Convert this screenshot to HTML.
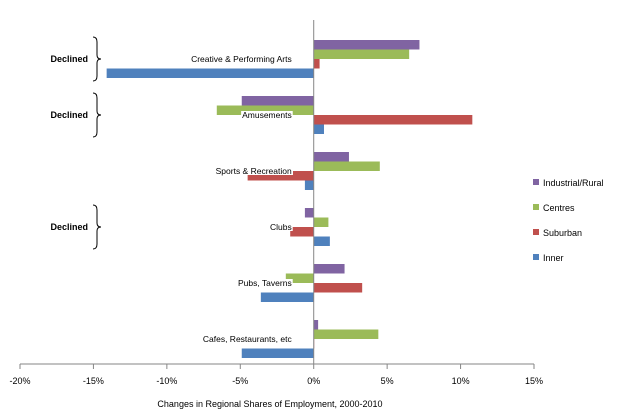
<!DOCTYPE html>
<html><head><meta charset="utf-8"><style>
body{margin:0;background:#fff;}
svg{display:block;font-family:"Liberation Sans",Arial,sans-serif;}
</style></head><body>
<svg id="chart" width="640" height="419"></svg>
<script>
const categories = ["Creative & Performing Arts","Amusements","Sports & Recreation","Clubs","Pubs, Taverns","Cafes, Restaurants, etc"];
const seriesNames = ["Industrial/Rural","Centres","Suburban","Inner"];
const industrial = [7.2,-4.9,2.4,-0.6,2.1,0.3];
const centres = [6.5,-6.6,4.5,1.0,-1.9,4.4];
const suburban = [0.4,10.8,-4.5,-1.6,3.3,0.0];
const inner = [-14.1,0.7,-0.6,1.1,-3.6,-4.9];
const ticks = [-20,-15,-10,-5,0,5,10,15];
const declined = [0,1,3];

const colors = ["#8064A2","#9BBB59","#C0504D","#4F81BD"];
const series = [industrial,centres,suburban,inner];
const NS="http://www.w3.org/2000/svg";
const svgEl=document.getElementById('chart');
const x0=20,x1=534,vmin=-20,vmax=15;
const xs=v=>x0+(v-vmin)/(vmax-vmin)*(x1-x0);
const plotTop=23,groupH=56,barH=9.5,gOff=17;
function mk(t,a){const e=document.createElementNS(NS,t);for(const k in a)e.setAttribute(k,a[k]);svgEl.appendChild(e);return e;}

categories.forEach((c,i)=>{
  const gy=plotTop+i*groupH;
  series.forEach((s,j)=>{
    const v=s[i];
    const y=gy+gOff+j*barH;
    const r=mk('rect',{x:Math.min(xs(0),xs(v)),y:y,width:Math.max(Math.abs(xs(v)-xs(0)),0.5),height:barH,fill:colors[j]});
    
    
  });
});
const vz=mk('line',{x1:xs(0),x2:xs(0),y1:20,y2:364,stroke:'#868686','stroke-width':1});


categories.forEach((c,i)=>{
  const gy=plotTop+i*groupH;
  const t=mk('text',{x:xs(0)-22,y:gy+gOff+2*barH+3,'text-anchor':'end','font-size':8.5,fill:'#000'});
  t.textContent=c;
  
  
  const bb=t.getBBox();
  const bg=mk('rect',{x:bb.x-1,y:bb.y+1,width:bb.width+2,height:bb.height-2,fill:'#fff'});
  svgEl.insertBefore(bg,t);
});
const ax=mk('line',{x1:x0,x2:x1,y1:364,y2:364,stroke:'#868686','stroke-width':1});


ticks.forEach(v=>{
  mk('line',{x1:xs(v),x2:xs(v),y1:364,y2:369,stroke:'#868686'});
  const t=mk('text',{x:xs(v),y:384,'text-anchor':'middle','font-size':9});
  t.textContent=v+'%';
  
  
});
const xt=mk('text',{x:270,y:407,'text-anchor':'middle','font-size':9});
xt.textContent='Changes in Regional Shares of Employment, 2000-2010';


seriesNames.forEach((n,j)=>{
  const y=183+j*25;
  const r=mk('rect',{x:533,y:y-4,width:6,height:6,fill:colors[j]});
  
  
  const t=mk('text',{x:543,y:y+3,'font-size':9});
  t.textContent=n;
  
  
});
declined.forEach(i=>{
  const gy=plotTop+i*groupH+gOff-3, gh=44, bx=93, m=gy+gh/2;
  const p=mk('path',{d:`M${bx},${gy} Q${bx+4},${gy} ${bx+4},${gy+5} L${bx+4},${m-4} Q${bx+4},${m} ${bx+8},${m} Q${bx+4},${m} ${bx+4},${m+4} L${bx+4},${gy+gh-5} Q${bx+4},${gy+gh} ${bx},${gy+gh}`,fill:'none',stroke:'#000','stroke-width':1});
  
  
  const t=mk('text',{x:88,y:m+3,'text-anchor':'end','font-size':9,'font-weight':'bold'});
  t.textContent='Declined';
  
  
});
</script>
</body></html>
